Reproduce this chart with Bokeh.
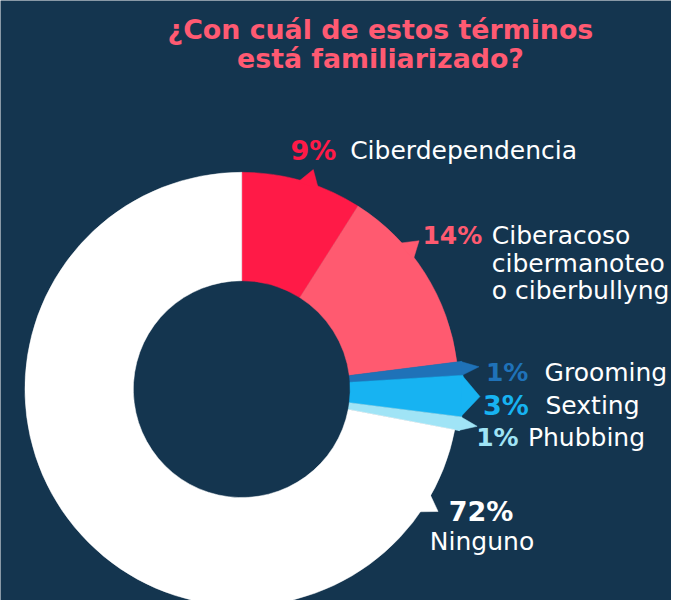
import math
from bokeh.plotting import figure
from bokeh.models import Range1d, ColumnDataSource
from bokeh.core.properties import value
from bokeh.embed import file_html
from bokeh.resources import INLINE

# ---- data ----
categories = ["Ciberdependencia", "Ciberacoso\ncibermanoteo\no ciberbullyng",
              "Grooming", "Sexting", "Phubbing", "Ninguno"]
values = [9, 14, 1, 3, 1, 72]
pct_labels = ["9%", "14%", "1%", "3%", "1%", "72%"]
title_lines = ["¿Con cuál de estos términos", "está familiarizado?"]

# ---- styles / layout ----
BG = "#14354f"
colors = ["#ff1a47", "#ff5a70", "#1f72b8", "#17b3f2", "#a0e4f6", "#ffffff"]
pct_colors = ["#ff1a47", "#ff5a70", "#1f72b8", "#17b3f2", "#a0e4f6", "#ffffff"]
TITLE_COLOR = "#ff5a72"

W, H = 687, 616          # layout space (reference pixels)
def Y(v):                # convert top-down pixel position to data y
    return H - v

cx, cy = 247, Y(399)
r_in, r_out = 111, 222
small_ext = 227          # outer radius of the small, extended slices
small_flags = [False, False, True, True, True, False]
pointer_angle = [18, 50, None, None, None, 122]   # degrees clockwise from top
pointer_half = 11
pointer_len = 15

# label anchors (left x, center y in reference pixels)
pct_pos = [(297, 154), (432, 241), (497, 382), (494, 416), (487, 449), (492, 525)]
cat_pos = [(358, 154), (503, 241), (557, 382), (558, 416), (540, 449), (493, 555)]
pct_align = ["left", "left", "left", "left", "left", "center"]
cat_align = ["left", "left", "left", "left", "left", "center"]
pct_size = ["27px", "25px", "25px", "27px", "25px", "27px"]
line_gap = 28.5

p = figure(width=671, height=600, x_range=Range1d(0, W), y_range=Range1d(0, H),
           output_backend="svg", toolbar_location=None, min_border=0)
p.axis.visible = False
p.grid.visible = False
p.outline_line_color = None
p.background_fill_color = BG
p.border_fill_color = BG

total = sum(values)
starts, ends = [], []
acc = 0.0
for v in values:
    starts.append(acc / total * 360.0)
    acc += v
    ends.append(acc / total * 360.0)

def pt(theta_deg, r):
    t = math.radians(theta_deg)
    return cx + r * math.sin(t), cy + r * math.cos(t)

outer = [small_ext if s else r_out for s in small_flags]
src = ColumnDataSource(dict(
    start=[math.radians(90 - s) for s in starts],
    end=[math.radians(90 - e) for e in ends],
    outer=outer,
    color=colors,
))
p.annular_wedge(x=cx, y=cy, inner_radius=r_in, outer_radius="outer",
                start_angle="start", end_angle="end", direction="clock",
                fill_color="color", line_color="color", line_width=0.5, source=src)

# callout pointers
xs, ys, pc = [], [], []
for i in range(len(values)):
    if small_flags[i]:
        a0, a1 = starts[i], ends[i]
        am = (a0 + a1) / 2
        b0 = pt(a0, outer[i] - 1)
        b1 = pt(a1, outer[i] - 1)
        tip = pt(am, outer[i] + 17)
    else:
        am = pointer_angle[i]
        t = math.radians(am)
        bx, by = pt(am, r_out - 2)
        tx, ty = math.cos(t), -math.sin(t)   # tangent (clockwise)
        b0 = (bx - tx * pointer_half, by - ty * pointer_half)
        b1 = (bx + tx * pointer_half, by + ty * pointer_half)
        tip = pt(am, r_out + pointer_len)
    xs.append([b0[0], tip[0], b1[0]])
    ys.append([b0[1], tip[1], b1[1]])
    pc.append(colors[i])
p.patches(xs=xs, ys=ys, fill_color=pc, line_color=pc, line_width=0.5)

# title
for k, line in enumerate(title_lines):
    p.text(x=[389], y=[Y(30 + k * 30)], text=[line], text_align="center",
           text_baseline="middle", text_font=value("DejaVu Sans"),
           text_font_style="bold", text_font_size="26.8px", text_color=TITLE_COLOR)

# labels
for i in range(len(values)):
    px_, py_ = pct_pos[i]
    p.text(x=[px_], y=[Y(py_)], text=[pct_labels[i]], text_align=pct_align[i],
           text_baseline="middle", text_font=value("DejaVu Sans"),
           text_font_style="bold", text_font_size=pct_size[i], text_color=pct_colors[i])
    lx, ly = cat_pos[i]
    for k, line in enumerate(categories[i].split("\n")):
        p.text(x=[lx], y=[Y(ly + k * line_gap)], text=[line], text_align=cat_align[i],
               text_baseline="middle", text_font=value("DejaVu Sans"),
               text_font_size="25px", text_color="#ffffff")

open("out.html", "w").write(file_html(p, INLINE))
